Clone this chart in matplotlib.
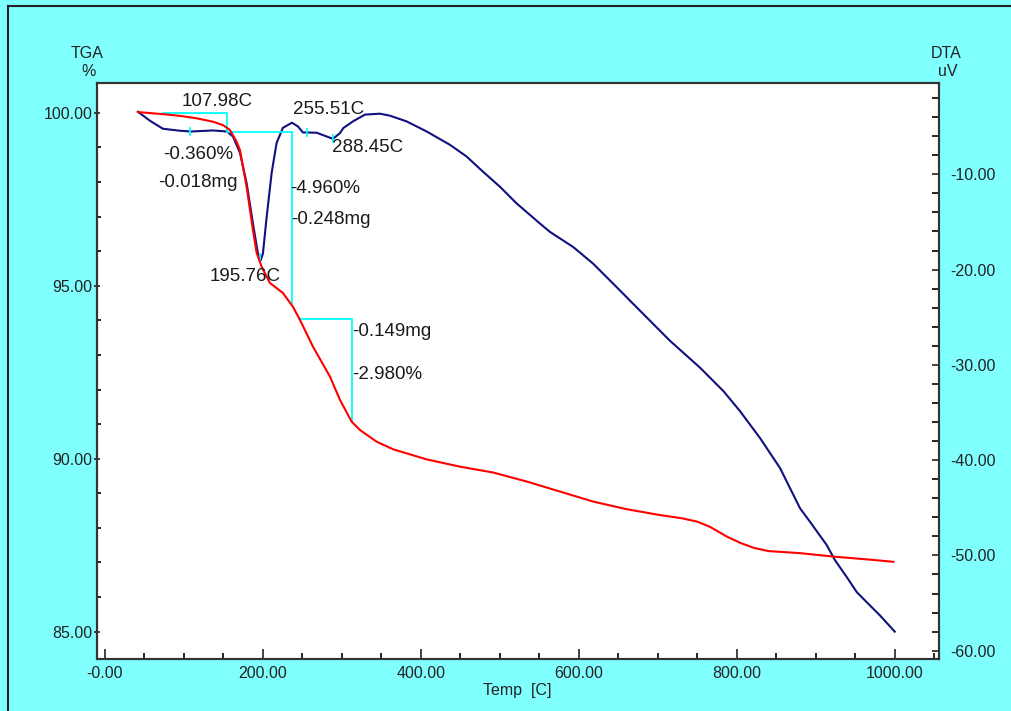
import numpy as np
import matplotlib
matplotlib.use("Agg")
import matplotlib.pyplot as plt
from matplotlib.ticker import MultipleLocator, FixedLocator, FixedFormatter
from matplotlib.lines import Line2D

plt.rcParams['font.family'] = ['Liberation Sans', 'DejaVu Sans']

# ---- DTA curve (right axis, uV) ----
temp_dta = [41.8, 57.0, 73.4, 95.0, 108.9, 136.8, 154.5, 162.1, 171.0, 179.4, 187.4,
            193.7, 197.2, 200.1, 204.8, 211.1, 217.4, 225.4, 236.8, 244.4, 250.7, 254.2,
            268.1, 280.7, 288.7, 297.6, 301.8, 314.0, 329.2, 348.2, 360.9, 382.0, 407.4,
            436.9, 458.0, 478.7, 500.2, 521.3, 550.8, 563.5, 593.0, 618.3, 635.3, 652.2,
            669.0, 715.5, 753.5, 783.0, 804.1, 829.4, 854.8, 880.1, 892.7, 913.9, 924.4,
            939.2, 951.9, 964.5, 981.4, 1000.0]
dta = [-3.43, -4.38, -5.22, -5.43, -5.51, -5.40, -5.51, -6.03, -7.75, -10.92, -15.14,
       -18.30, -19.04, -18.30, -14.47, -9.86, -6.70, -5.12, -4.59, -4.98, -5.61, -5.61,
       -5.64, -6.03, -6.28, -5.68, -5.15, -4.45, -3.74, -3.64, -3.85, -4.45, -5.51,
       -6.91, -8.14, -9.73, -11.31, -13.06, -15.17, -16.05, -17.64, -19.39, -20.80, -22.20,
       -23.61, -27.48, -30.30, -32.75, -34.86, -37.68, -40.84, -45.06, -46.47, -48.92, -50.51,
       -52.27, -53.85, -54.91, -56.31, -58.0]

# ---- TGA curve (left axis, %) ----
temp_tga = [41.8, 73.4, 95.0, 116.1, 137.1, 149.8, 158.3, 166.8, 171.0, 179.4, 187.4,
            192.1, 198.4, 208.9, 225.4, 238.1, 247.0, 263.4, 285.0, 297.6, 312.4, 322.9,
            344.1, 365.1, 407.4, 449.5, 491.7, 534.0, 576.2, 618.3, 660.6, 702.8, 730.0,
            750.0, 766.1, 787.3, 805.0, 822.0, 840.0, 880.1, 922.3, 964.5, 998.2]
tga = [100.02, 99.96, 99.91, 99.84, 99.74, 99.64, 99.50, 99.16, 98.92, 97.86, 96.61,
       95.95, 95.55, 95.08, 94.79, 94.39, 94.01, 93.24, 92.37, 91.70, 91.07, 90.83,
       90.49, 90.27, 89.98, 89.77, 89.60, 89.34, 89.05, 88.76, 88.54, 88.37, 88.28,
       88.18, 88.03, 87.75, 87.56, 87.42, 87.33, 87.27, 87.17, 87.09, 87.02]

# ---- axis ticks ----
x_ticks = [0, 200, 400, 600, 800, 1000]
x_labels = ["-0.00", "200.00", "400.00", "600.00", "800.00", "1000.00"]
tga_ticks = [85, 90, 95, 100]
tga_labels = ["85.00", "90.00", "95.00", "100.00"]
dta_ticks = [-60, -50, -40, -30, -20, -10]
dta_labels = ["-60.00", "-50.00", "-40.00", "-30.00", "-20.00", "-10.00"]

# ---- analysis marks ----
peak_temps = [107.98, 195.76, 255.51, 288.45]
step1_x = [73.4, 154.5, 154.5, 236.8, 236.8]
step1_y = [100.0, 100.0, 99.45, 99.45, 94.47]
step2_x = [245.6, 312.4, 312.4]
step2_y = [94.03, 94.03, 91.07]

ann_texts = ["107.98C", "255.51C", "-0.360%", "288.45C", "-0.018mg", "-4.960%",
             "-0.248mg", "195.76C", "-0.149mg", "-2.980%"]
ann_x = [97.5, 238.5, 73.8, 287.8, 67.5, 234.3, 236.4, 133.0, 312.4, 312.4]
ann_y = [100.32, 100.08, 98.78, 98.99, 97.98, 97.82, 96.90, 95.28, 93.67, 92.42]

W, H = 1011, 711
fig = plt.figure(figsize=(W / 100, H / 100), dpi=100, facecolor='#80FFFF')
ax = fig.add_axes([97 / W, 1 - 659 / H, (939 - 97) / W, (659 - 83) / H])
ax.set_facecolor('white')
ax2 = ax.twinx()

ax.set_xlim(-10, 1056)
ax.set_ylim(84.21, 100.86)
ax2.set_ylim(-60.87, -0.42)

# cyan step lines (beneath curves)
ax.plot(step1_x, step1_y, color='#00FFFF', lw=1.3, zorder=1)
ax.plot(step2_x, step2_y, color='#00FFFF', lw=1.3, zorder=1)

ax2.plot(temp_dta, dta, color='#10107F', lw=1.5, zorder=3)
peak_vals = np.interp(peak_temps, temp_dta, dta)
for t, v in zip(peak_temps, peak_vals):
    ax2.plot([t, t], [v - 0.35, v + 0.35], color='#00FFFF', lw=1.3, zorder=4)

ax.set_zorder(ax2.get_zorder() + 1)
ax.patch.set_visible(False)
ax2.patch.set_visible(True)
ax2.patch.set_facecolor('white')
ax.plot(temp_tga, tga, color='#FF0000', lw=1.5, zorder=3)

for s, x, y in zip(ann_texts, ann_x, ann_y):
    ax.text(x, y, s, ha='left', va='center', fontsize=13.5, color='#1a1a1a', zorder=5)

# ticks
ax.xaxis.set_major_locator(FixedLocator(x_ticks))
ax.xaxis.set_major_formatter(FixedFormatter(x_labels))
ax.xaxis.set_minor_locator(MultipleLocator(50))
ax.yaxis.set_major_locator(FixedLocator(tga_ticks))
ax.yaxis.set_major_formatter(FixedFormatter(tga_labels))
ax.yaxis.set_minor_locator(MultipleLocator(1))
ax2.yaxis.set_major_locator(FixedLocator(dta_ticks))
ax2.yaxis.set_major_formatter(FixedFormatter(dta_labels))
ax2.yaxis.set_minor_locator(MultipleLocator(2))

ax.tick_params(axis='x', which='major', direction='in', length=7, width=1.2, pad=5,
               labelsize=11.5, colors='#222222')
ax.tick_params(axis='x', which='minor', direction='in', length=4, width=1.2)
ax.tick_params(axis='y', which='major', direction='inout', length=5, width=1.2, pad=1,
               labelsize=11.5, colors='#222222')
ax.tick_params(axis='y', which='minor', direction='in', length=3, width=1.2)
ax2.tick_params(axis='y', which='major', direction='in', length=5, width=1.2, pad=8,
                labelsize=11.5, colors='#222222')
ax2.tick_params(axis='y', which='minor', direction='in', length=5, width=1.2)

for a in (ax, ax2):
    for sp in a.spines.values():
        sp.set_color('#333333')
        sp.set_linewidth(1.5)

# axis titles
fig.text(87 / W, 1 - 53 / H, "TGA", ha='center', va='center', fontsize=11.5, color='#222222')
fig.text(89 / W, 1 - 72 / H, "%", ha='center', va='center', fontsize=11.5, color='#222222')
fig.text(946 / W, 1 - 53 / H, "DTA", ha='center', va='center', fontsize=11.5, color='#222222')
fig.text(948 / W, 1 - 72 / H, "uV", ha='center', va='center', fontsize=11.5, color='#222222')
fig.text(517 / W, 1 - 690 / H, "Temp  [C]", ha='center', va='center', fontsize=11.5, color='#222222')

# outer frame
fig.add_artist(Line2D([8 / W, 8 / W], [0, 1 - 6 / H], color='#222222', lw=1.5,
                      transform=fig.transFigure))
fig.add_artist(Line2D([8 / W, 1], [1 - 6 / H, 1 - 6 / H], color='#222222', lw=1.5,
                      transform=fig.transFigure))

fig.savefig("out.png", dpi=100, facecolor=fig.get_facecolor())
